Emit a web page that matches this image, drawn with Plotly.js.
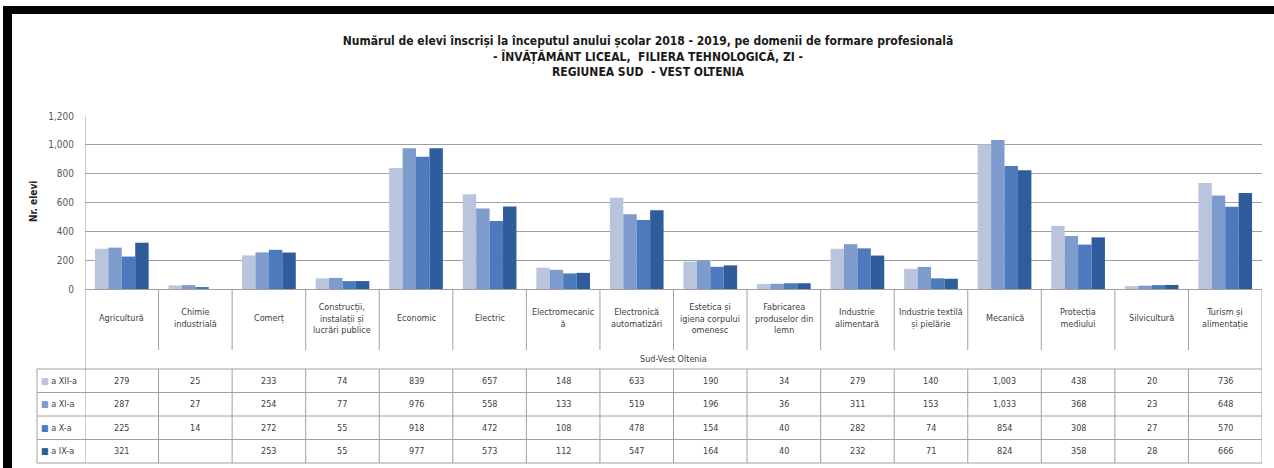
<!DOCTYPE html>
<html><head><meta charset="utf-8">
<script src="https://cdn.plot.ly/plotly-3.0.1.min.js"></script>
<style>html,body{margin:0;padding:0;background:#fff}#chart{width:1274px;height:468px}</style>
</head><body><div id="chart"></div>
<script>
// ---- data ----
const categories = ["Agricultură","Chimie industrială","Comerț","Construcții, instalații și lucrări publice","Economic","Electric","Electromecanică","Electronică automatizări","Estetica și igiena corpului omenesc","Fabricarea produselor din lemn","Industrie alimentară","Industrie textilă și pielărie","Mecanică","Protecția mediului","Silvicultură","Turism și alimentație"];
const tickLabels = ["Agricultură","Chimie<br>industrială","Comerț","Construcții,<br>instalații și<br>lucrări publice","Economic","Electric","Electromecanic<br>ă","Electronică<br>automatizări","Estetica și<br>igiena corpului<br>omenesc","Fabricarea<br>produselor din<br>lemn","Industrie<br>alimentară","Industrie textilă<br>și pielărie","Mecanică","Protecția<br>mediului","Silvicultură","Turism și<br>alimentație"];
const seriesNames = ["a XII-a","a XI-a","a X-a","a IX-a"];
const clasaXII = [279,25,233,74,839,657,148,633,190,34,279,140,1003,438,20,736];
const clasaXI  = [287,27,254,77,976,558,133,519,196,36,311,153,1033,368,23,648];
const clasaX   = [225,14,272,55,918,472,108,478,154,40,282,74,854,308,27,570];
const clasaIX  = [321,null,253,55,977,573,112,547,164,40,232,71,824,358,28,666];
const groupLabel = "Sud-Vest Oltenia";
const yTickVals = [0,200,400,600,800,1000,1200];
const yTickText = ["0","200","400","600","800","1,000","1,200"];
const titleLines = ["Numărul de elevi înscriși la începutul anului școlar 2018 - 2019, pe domenii de formare profesională","- ÎNVĂȚĂMÂNT LICEAL,  FILIERA TEHNOLOGICĂ, ZI -","REGIUNEA SUD  - VEST OLTENIA"];
const yTitle = "Nr. elevi";

// ---- style / geometry ----
const W = 1274, H = 468, L = 85, R = 12, T = 116, B = 179;
const pw = W - L - R, ph = H - T - B;
const py = p => (H - B - p) / ph;
const px = p => (p - L) / pw;
const FONT = "'DejaVu Sans Condensed','Liberation Sans Narrow','Arial Narrow',sans-serif";
const colors = ["#b9c5dd","#7e9bcd","#4d7abd","#2f5c9a"];
const gridCol = "#a0a0a0";
const series = [clasaXII, clasaXI, clasaX, clasaIX];
const n = categories.length;

const traces = series.map((s, i) => ({
  type: 'bar', name: seriesNames[i], x: categories, y: s,
  marker: {color: colors[i], line: {width: 0}}
}));

const shapes = [];
const lineStyle = {color: gridCol, width: 1};
// table horizontal lines
const rowEdges = [369, 392.5, 416, 439.5, 463];
rowEdges.forEach(r => shapes.push({type:'line', xref:'paper', yref:'paper', x0: px(37), x1: 1, y0: py(r), y1: py(r), line: lineStyle}));
// vertical lines in data rows
shapes.push({type:'line', xref:'paper', yref:'paper', x0: px(37), x1: px(37), y0: py(369), y1: py(463), line: lineStyle});
for (let i = 0; i <= n; i++) {
  shapes.push({type:'line', xref:'x', yref:'paper', x0: i - 0.5, x1: i - 0.5, y0: py(369), y1: py(463), line: lineStyle});
}
// header verticals
for (let i = 1; i < n; i++) {
  shapes.push({type:'line', xref:'x', yref:'paper', x0: i - 0.5, x1: i - 0.5, y0: 0, y1: py(350), line: lineStyle});
}
// outer verticals
shapes.push({type:'line', xref:'x', yref:'paper', x0: -0.5, x1: -0.5, y0: 1, y1: py(369), line: lineStyle});
shapes.push({type:'line', xref:'x', yref:'paper', x0: n - 0.5, x1: n - 0.5, y0: 0, y1: py(369), line: lineStyle});
// black frame
shapes.push({type:'rect', xref:'paper', yref:'paper', x0: px(3), x1: px(W + 5), y0: py(14), y1: py(6), fillcolor:'#000', line:{width:0}, layer:'above'});
shapes.push({type:'rect', xref:'paper', yref:'paper', x0: px(3), x1: px(12), y0: py(H + 5), y1: py(6), fillcolor:'#000', line:{width:0}, layer:'above'});

const annotations = [];
const txtCol = '#404040';
// category labels
categories.forEach((c, i) => annotations.push({
  xref:'x', yref:'paper', x: c, y: py(318), text: tickLabels[i], showarrow:false,
  xanchor:'center', yanchor:'middle', align:'center',
  font:{family: FONT, size: 9, color: txtCol}
}));
annotations.push({xref:'paper', yref:'paper', x: 0.5, y: py(359), text: groupLabel, showarrow:false,
  xanchor:'center', yanchor:'middle', font:{family: FONT, size: 9, color: txtCol}});
// data table
const rowCenters = [380.75, 404.25, 427.75, 451.25];
series.forEach((s, r) => {
  annotations.push({xref:'paper', yref:'paper', x: px(39), y: py(rowCenters[r]), xanchor:'left', yanchor:'middle', showarrow:false,
    text: '<span style="color:' + colors[r] + '">■</span> ' + seriesNames[r],
    font:{family: FONT, size: 9, color: txtCol}});
  s.forEach((v, i) => {
    if (v === null) return;
    annotations.push({xref:'x', yref:'paper', x: categories[i], y: py(rowCenters[r]), xanchor:'center', yanchor:'middle', showarrow:false,
      text: v.toLocaleString('en-US'), font:{family: FONT, size: 9, color: txtCol}});
  });
});
// y title
annotations.push({xref:'paper', yref:'paper', x: px(33), y: py(202), text: '<b>' + yTitle + '</b>', textangle: -90, showarrow:false,
  xanchor:'center', yanchor:'middle', font:{family: FONT, size: 10, color:'#262626'}});

const layout = {
  width: W, height: H, margin: {l: L, r: R, t: T, b: B, pad: 0},
  paper_bgcolor: '#fff', plot_bgcolor: '#fff',
  barmode: 'group', bargap: 0.27, bargroupgap: 0, showlegend: false,
  font: {family: FONT, size: 10, color: '#595959'},
  title: {text: titleLines.map(t => '<b>' + t + '</b>').join('<br>'), xref:'container', x: 648 / W, xanchor:'center',
    yref:'container', y: 1 - 45 / H, yanchor:'top', font: {family: FONT, size: 12, color: '#1a1a1a'}},
  xaxis: {type:'category', range: [-0.5, n - 0.5], showticklabels: false, showgrid: false, zeroline: false,
    showline: true, linecolor: gridCol, linewidth: 1, ticks: '', fixedrange: true},
  yaxis: {range: [0, 1200], tickvals: yTickVals, ticktext: yTickText, showgrid: true, gridcolor: gridCol, gridwidth: 1,
    zeroline: false, showline: false, ticks: '', ticklabelstandoff: 10, tickfont: {family: FONT, size: 10, color: '#595959'}, fixedrange: true},
  shapes: shapes, annotations: annotations
};
Plotly.newPlot('chart', traces, layout, {displayModeBar: false, staticPlot: true});
</script></body></html>
